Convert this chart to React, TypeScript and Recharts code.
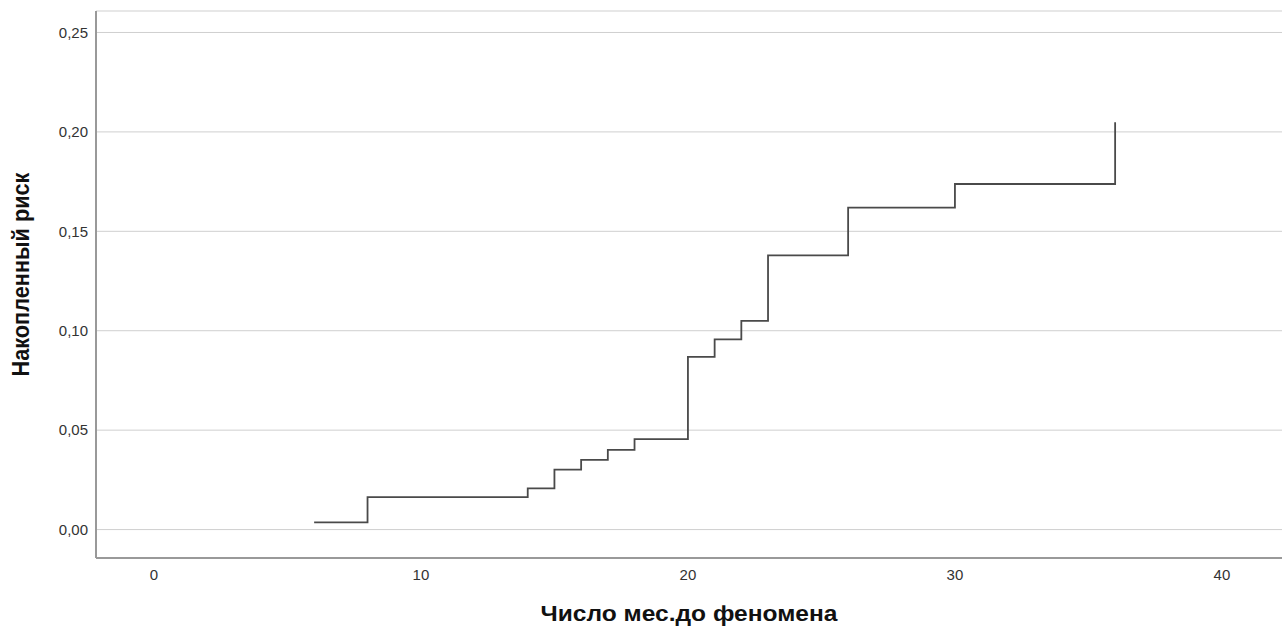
import React from "react";
import { LineChart, Line, XAxis, YAxis, CartesianGrid } from "recharts";

// event times (months) and cumulative hazard
const months = [6, 8, 14, 15, 16, 17, 18, 20, 21, 22, 23, 26, 30, 36];
const risk = [
  0.0036, 0.0163, 0.0207, 0.0301, 0.035, 0.0401, 0.0455, 0.0869, 0.0957, 0.105,
  0.1379, 0.1619, 0.1738, 0.2048,
];
const xTicks = [0, 10, 20, 30, 40];
const yTicks = [0, 0.05, 0.1, 0.15, 0.2, 0.25];

const xTitle = "Число мес.до феномена";
const yTitle = "Накопленный риск";

const data = months.map((t, i) => ({ t, risk: risk[i] }));

const font = "'Liberation Sans', Arial, sans-serif";
const fmt = (v: number) => v.toFixed(2).replace(".", ",");

const XTitle = ({ viewBox }: any) => {
  const cx = viewBox.x + viewBox.width / 2;
  return (
    <text
      x={cx}
      y={viewBox.y + viewBox.height - 5}
      textAnchor="middle"
      fontFamily={font}
      fontWeight="bold"
      fontSize={22}
      fill="#111"
      textLength={297}
      lengthAdjust="spacingAndGlyphs"
    >
      {xTitle}
    </text>
  );
};

const YTitle = ({ viewBox }: any) => {
  const x = viewBox.x + 29;
  const y = viewBox.y + viewBox.height / 2 - 10;
  return (
    <text
      x={x}
      y={y}
      transform={`rotate(-90, ${x}, ${y})`}
      textAnchor="middle"
      fontFamily={font}
      fontWeight="bold"
      fontSize={23}
      fill="#111"
      textLength={204}
      lengthAdjust="spacingAndGlyphs"
    >
      {yTitle}
    </text>
  );
};

export default function App() {
  return (
    <div style={{ position: "absolute", left: 0, top: 0, background: "#fff" }}>
      <LineChart
        width={1288}
        height={626}
        data={data}
        margin={{ top: 11, right: 6, left: 0, bottom: 0 }}
      >
        <CartesianGrid vertical={false} stroke="#cfcfcf" strokeWidth={1} />
        <XAxis
          type="number"
          dataKey="t"
          domain={[-2.17, 42.25]}
          ticks={xTicks}
          allowDataOverflow
          height={68}
          tickLine={false}
          tickSize={8}
          tickMargin={3}
          stroke="#999"
          strokeWidth={2}
          tick={{ fontSize: 15, fill: "#333", fontFamily: font }}
          label={<XTitle />}
        />
        <YAxis
          type="number"
          domain={[-0.0143, 0.2608]}
          ticks={yTicks}
          allowDataOverflow
          width={96}
          tickLine={false}
          tickSize={6}
          tickMargin={2}
          tickFormatter={fmt}
          stroke="#999"
          strokeWidth={2}
          tick={{ fontSize: 15, fill: "#333", fontFamily: font }}
          label={<YTitle />}
        />
        <Line
          type="stepAfter"
          dataKey="risk"
          stroke="#4a4a4a"
          strokeWidth={1.8}
          dot={false}
          activeDot={false}
          isAnimationActive={false}
        />
      </LineChart>
    </div>
  );
}
